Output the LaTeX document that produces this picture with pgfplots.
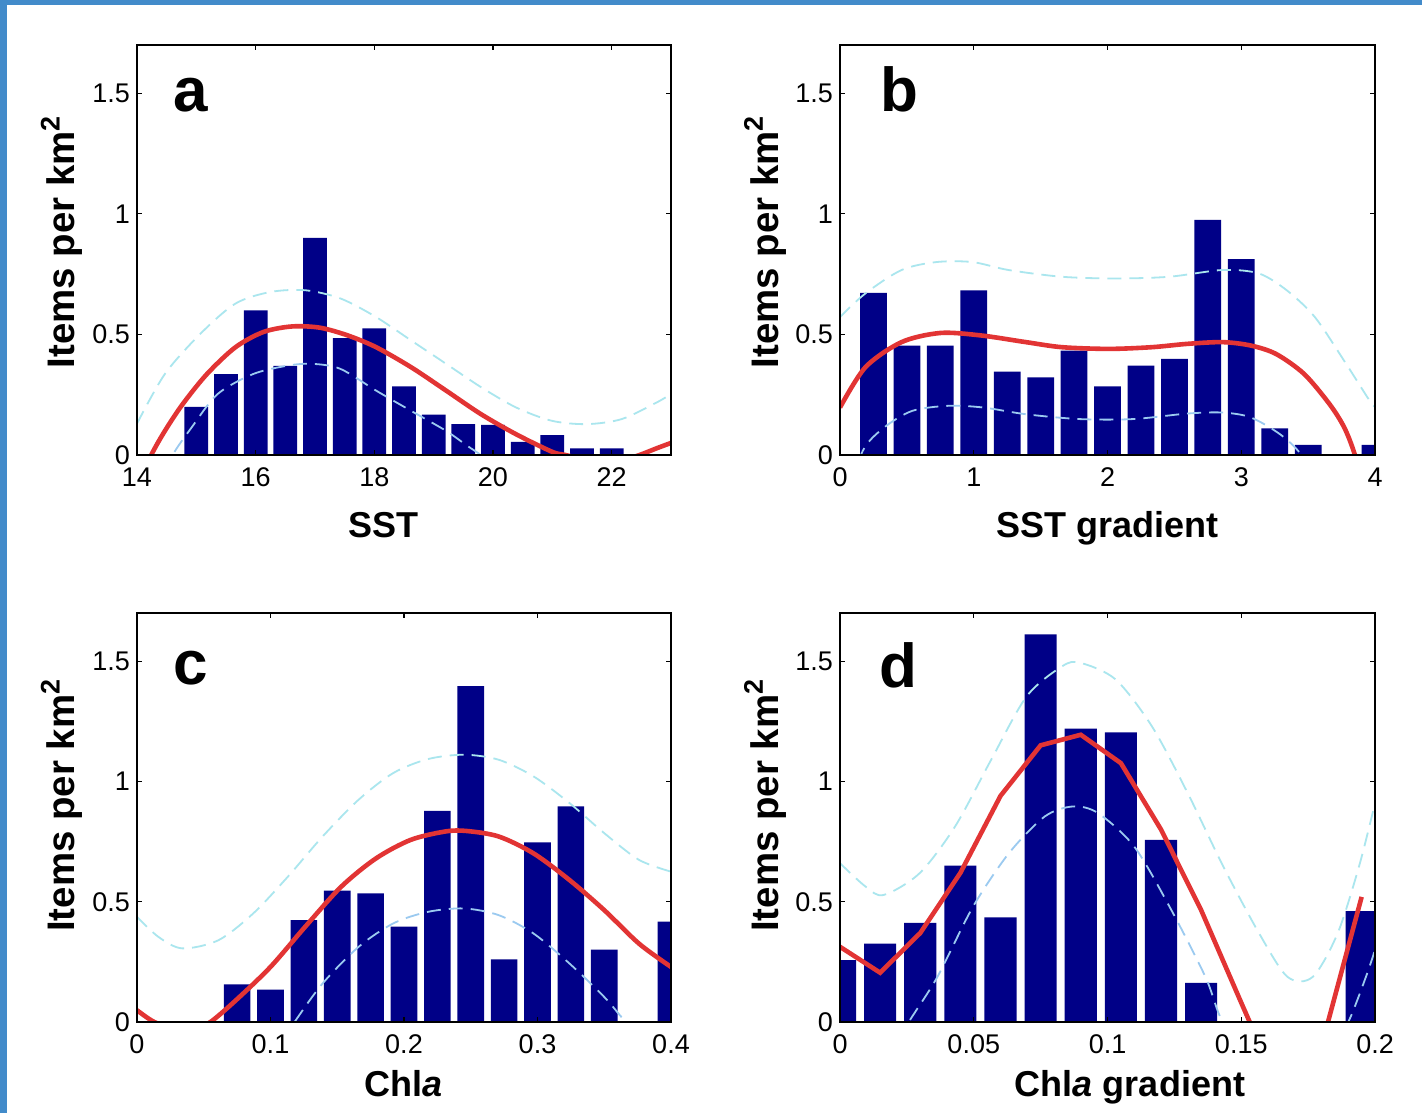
\documentclass[border=0pt]{standalone}
\usepackage{fontspec}
\setmainfont{Liberation Sans}
\usepackage{pgfplots}
\pgfplotsset{compat=1.18}

\definecolor{barblue}{RGB}{0,0,135}
\definecolor{fitred}{RGB}{226,52,52}
\definecolor{upcyan}{RGB}{170,230,238}
\definecolor{lowblue}{RGB}{155,202,240}
\definecolor{frameblue}{RGB}{66,139,202}

\pgfplotsset{
  panel/.style={
    scale only axis, width=267pt, height=205pt,
    ymin=0, ymax=1.7, ytick={0,0.5,1,1.5},
    yticklabels={0,0.5,1,1.5},
    tick align=inside, tick pos=both, major tick length=2.5pt,
    axis line style={line width=0.8pt},
    every tick/.style={black, line width=0.6pt},
    axis on top,
    scaled ticks=false,
    ticklabel style={font=\fontsize{13.5}{16}\selectfont},
    xticklabel style={yshift=-3pt},
    ylabel={Items per km\textsuperscript{2}},
    label style={font=\fontsize{18}{21}\selectfont\bfseries},
    ylabel style={font=\fontsize{19.2}{22}\selectfont\bfseries},
  },
  upper/.style={upcyan, line width=0.9pt, dash pattern=on 7pt off 4pt, smooth},
  lower/.style={lowblue, line width=0.9pt, dash pattern=on 7pt off 4pt, smooth},
  fit/.style={fitred, line width=2.3pt},
}
\tikzset{letter/.style={anchor=base west, font=\fontsize{31}{36}\selectfont\bfseries}}

\begin{document}
\begin{tikzpicture}
\fill[white] (0,0) rectangle (711pt,-556.5pt);
\fill[frameblue] (0,0) rectangle (3.5pt,-556.5pt);
\fill[frameblue] (0,0) rectangle (711pt,-2.5pt);
\useasboundingbox (0,0) rectangle (711pt,-556.5pt);

% a: SST
\begin{axis}[panel, at={(68.5pt,-227.5pt)}, anchor=south west,
    xmin=14, xmax=23, xtick={14,16,18,20,22}, xticklabels={14,16,18,20,22},
    xlabel={SST},
    xlabel style={at={(axis description cs:0.4625,-0.2)}, anchor=base},
    ylabel style={at={(axis description cs:-0.141,0.52)}, anchor=center}]
\addplot[ybar, bar width=0.4, fill=barblue, draw=none] coordinates {
  (15,0.20) (15.5,0.335) (16,0.60) (16.5,0.37) (17,0.90) (17.5,0.485)
  (18,0.525) (18.5,0.285) (19,0.167) (19.5,0.128) (20,0.125) (20.5,0.054)
  (21,0.082) (21.5,0.028) (22,0.028)
};
\addplot[upper] coordinates {
  (14,0.13) (14.47,0.336) (15.07,0.503) (15.66,0.628) (16.25,0.676)
  (16.84,0.683) (17.43,0.649) (18.03,0.572) (18.62,0.475) (19.21,0.378)
  (19.80,0.281) (20.39,0.197) (20.99,0.142) (21.58,0.128) (22.17,0.149)
  (22.76,0.218) (23,0.253)
};
\addplot[lower] coordinates {
  (14.3,-0.15) (14.6,0) (14.92,0.114) (15.36,0.253) (15.96,0.336)
  (16.55,0.371) (16.96,0.378) (17.43,0.357) (18.03,0.267) (18.62,0.183)
  (19.21,0.10) (19.57,0.0375) (19.80,0) (20.1,-0.05)
};
\addplot[fit, smooth] coordinates {
  (14,-0.13) (14.24,0) (14.47,0.10) (14.77,0.211) (15.18,0.336)
  (15.66,0.447) (16.13,0.51) (16.61,0.533) (17.08,0.528) (17.55,0.496)
  (18.03,0.447) (18.62,0.364) (19.21,0.267) (19.80,0.169) (20.39,0.086)
  (20.99,0.014) (21.22,0) (21.8,-0.03) (22.2,-0.02) (22.47,0)
  (22.76,0.028) (23,0.05)
};
\node[letter] at (axis description cs:0.056,0.837) {a};
\end{axis}

% b: SST gradient
\begin{axis}[panel, at={(420pt,-227.5pt)}, anchor=south west, width=267.5pt,
    xmin=0, xmax=4, xtick={0,1,2,3,4}, xticklabels={0,1,2,3,4},
    xlabel={SST gradient},
    xlabel style={at={(axis description cs:0.5,-0.2)}, anchor=base},
    ylabel style={at={(axis description cs:-0.14,0.52)}, anchor=center}]
\addplot[ybar, bar width=0.2, fill=barblue, draw=none] coordinates {
  (0.25,0.672) (0.5,0.454) (0.75,0.454) (1.0,0.683) (1.25,0.346)
  (1.5,0.322) (1.75,0.433) (2.0,0.285) (2.25,0.371) (2.5,0.399)
  (2.75,0.975) (3.0,0.8125) (3.25,0.11) (3.5,0.042) (3.75,0) (4.0,0.042)
};
\addplot[upper] coordinates {
  (0,0.572) (0.19,0.67) (0.46,0.767) (0.72,0.80) (0.99,0.80) (1.26,0.767)
  (1.66,0.739) (2.06,0.732) (2.46,0.739) (2.86,0.767) (3.13,0.753)
  (3.34,0.683) (3.55,0.572) (3.77,0.39) (3.96,0.225) (4.0,0.2)
};
\addplot[lower] coordinates {
  (0.05,-0.2) (0.17,0.017) (0.33,0.114) (0.54,0.183) (0.81,0.204)
  (1.07,0.197) (1.39,0.169) (1.79,0.149) (2.19,0.149) (2.6,0.172)
  (2.86,0.176) (3.07,0.156) (3.29,0.086) (3.45,0) (3.6,-0.15)
};
\addplot[fit, smooth] coordinates {
  (0,0.197) (0.19,0.364) (0.46,0.468) (0.75,0.506) (1.05,0.496)
  (1.39,0.468) (1.66,0.447) (2.01,0.44) (2.33,0.447) (2.6,0.461)
  (2.86,0.468) (3.07,0.454) (3.26,0.419) (3.47,0.336) (3.66,0.211)
  (3.77,0.114) (3.85,0) (3.95,-0.2)
};
\node[letter] at (axis description cs:0.063,0.837) {b};
\end{axis}

% c: Chla
\begin{axis}[panel, at={(68.5pt,-511pt)}, anchor=south west, height=204.5pt,
    xmin=0, xmax=0.4, xtick={0,0.1,0.2,0.3,0.4}, xticklabels={0,0.1,0.2,0.3,0.4},
    xlabel={Chl\textit{a}},
    xlabel style={at={(axis description cs:0.5,-0.183)}, anchor=base},
    ylabel style={at={(axis description cs:-0.141,0.53)}, anchor=center}]
\addplot[ybar, bar width=0.02, fill=barblue, draw=none] coordinates {
  (0.075,0.156) (0.1,0.135) (0.125,0.424) (0.15,0.546) (0.175,0.535)
  (0.2,0.396) (0.225,0.878) (0.25,1.396) (0.275,0.26) (0.3,0.747)
  (0.325,0.896) (0.35,0.301) (0.375,0) (0.4,0.417)
};
\addplot[upper] coordinates {
  (0,0.4375) (0.016,0.354) (0.034,0.306) (0.061,0.34) (0.087,0.451)
  (0.113,0.604) (0.139,0.771) (0.166,0.924) (0.192,1.035) (0.218,1.093)
  (0.245,1.111) (0.271,1.09) (0.297,1.021) (0.324,0.91) (0.35,0.785)
  (0.376,0.674) (0.4,0.625)
};
\addplot[lower] coordinates {
  (0.1,-0.15) (0.118,0) (0.139,0.16) (0.166,0.3125) (0.192,0.41)
  (0.218,0.458) (0.245,0.472) (0.271,0.444) (0.297,0.368) (0.324,0.243)
  (0.35,0.104) (0.363,0.02) (0.375,-0.05)
};
\addplot[fit, smooth] coordinates {
  (0,0.049) (0.013,0) (0.03,-0.03) (0.045,-0.02) (0.055,0) (0.074,0.09)
  (0.1,0.229) (0.126,0.396) (0.153,0.5625) (0.179,0.68) (0.205,0.757)
  (0.231,0.792) (0.247,0.794) (0.271,0.771) (0.297,0.701) (0.324,0.59)
  (0.35,0.465) (0.376,0.326) (0.4,0.229)
};
\node[letter] at (axis description cs:0.056,0.824) {c};
\end{axis}

% d: Chla gradient
\begin{axis}[panel, at={(420pt,-511pt)}, anchor=south west, width=267.5pt, height=204.5pt,
    xmin=0, xmax=0.2, xtick={0,0.05,0.1,0.15,0.2}, xticklabels={0,0.05,0.1,0.15,0.2},
    xlabel={Chl\textit{a} gradient},
    xlabel style={at={(axis description cs:0.542,-0.183)}, anchor=base},
    ylabel style={at={(axis description cs:-0.14,0.53)}, anchor=center}]
\addplot[ybar, bar width=0.012, fill=barblue, draw=none] coordinates {
  (0,0.257) (0.015,0.326) (0.03,0.4125) (0.045,0.65) (0.06,0.435)
  (0.075,1.611) (0.09,1.219) (0.105,1.204) (0.12,0.757) (0.135,0.1625)
  (0.15,0) (0.165,0) (0.18,0) (0.195,0.461)
};
\addplot[upper] coordinates {
  (0,0.66) (0.0096,0.5625) (0.0163,0.528) (0.0297,0.618) (0.043,0.8125)
  (0.0565,1.09) (0.0698,1.354) (0.0831,1.479) (0.0898,1.493) (0.103,1.424)
  (0.1166,1.229) (0.13,0.951) (0.1433,0.646) (0.1567,0.368) (0.1673,0.1875)
  (0.1767,0.1875) (0.186,0.368) (0.194,0.646) (0.2,0.91)
};
\addplot[lower] coordinates {
  (0.018,-0.15) (0.0257,0) (0.0364,0.1875) (0.0497,0.479) (0.0631,0.701)
  (0.0765,0.854) (0.0871,0.896) (0.0965,0.868) (0.11,0.729) (0.1232,0.479)
  (0.1366,0.1875) (0.143,0) (0.155,-0.2) (0.17,-0.25) (0.183,-0.12)
  (0.19,0) (0.1966,0.1875) (0.2,0.3)
};
\addplot[fit] coordinates {
  (0,0.3125) (0.015,0.205) (0.03,0.37) (0.045,0.62) (0.06,0.94)
  (0.075,1.15) (0.09,1.194) (0.105,1.076) (0.12,0.80) (0.135,0.465)
  (0.15,0.08) (0.165,-0.3) (0.18,-0.1) (0.195,0.52)
};
\node[letter] at (axis description cs:0.06,0.817) {d};
\end{axis}
\end{tikzpicture}
\end{document}
